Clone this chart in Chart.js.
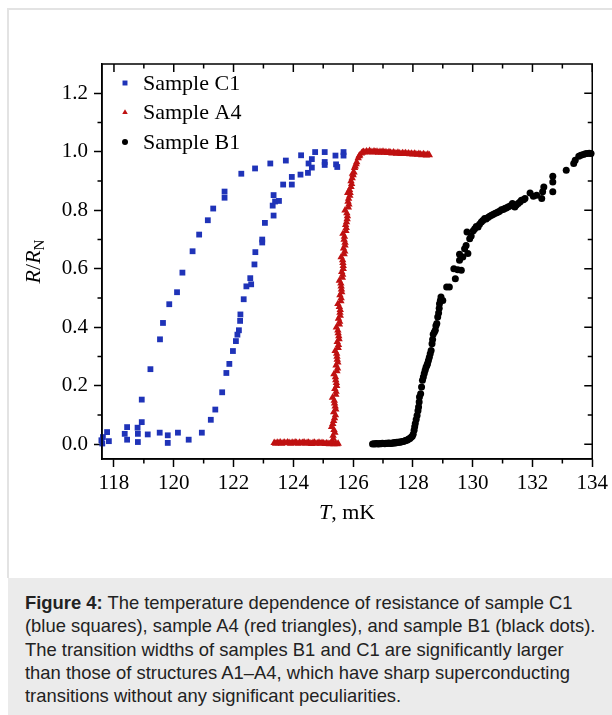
<!DOCTYPE html>
<html><head><meta charset="utf-8">
<script src="https://cdn.jsdelivr.net/npm/chart.js@4"></script>
<style>
html,body{margin:0;padding:0;background:#fff;}
body{width:612px;height:715px;position:relative;overflow:hidden;font-family:"Liberation Sans",Arial,sans-serif;}
#frame{position:absolute;left:7px;top:8px;width:605px;height:570px;border-top:2px solid #e3e3e3;border-left:2px solid #e3e3e3;box-sizing:border-box;}
#wrap{position:absolute;left:0;top:0;width:612px;height:578px;}
#cap{position:absolute;left:8px;top:578px;width:604px;height:137px;background:#ebebeb;box-sizing:border-box;padding:13px 0 0 17px;font-size:18.4px;line-height:23.3px;color:#222;white-space:nowrap;}
</style></head>
<body>
<div id="frame"></div>
<div id="wrap"><canvas id="c" width="612" height="578"></canvas></div>
<div id="cap"><b>Figure 4:</b> The temperature dependence of resistance of sample C1<br>(blue squares), sample A4 (red triangles), and sample B1 (black dots).<br>The transition widths of samples B1 and C1 are significantly larger<br>than those of structures A1–A4, which have sharp superconducting<br>transitions without any significant peculiarities.</div>
<script>
// ---- data (T in mK, R/RN) ----
const C1_T = [117.58,117.61,117.63,117.77,117.83,118.36,118.44,118.44,118.79,118.80,118.80,118.93,118.93,119.13,119.22,119.53,119.54,119.64,119.80,119.80,119.85,120.11,120.14,120.29,120.50,120.63,120.85,120.94,121.14,121.24,121.32,121.39,121.62,121.70,121.70,121.76,121.86,121.98,122.08,122.13,122.18,122.22,122.23,122.26,122.34,122.43,122.56,122.59,122.70,122.73,122.72,122.96,122.96,123.05,123.23,123.31,123.34,123.34,123.39,123.52,123.66,123.75,123.95,123.95,124.24,124.26,124.49,124.51,124.62,124.62,124.73,125.05,125.05,125.05,125.41,125.43,125.47,125.68,125.68];
const C1_R = [0.014,0.003,0.025,0.042,0.011,0.036,0.059,0.016,0.057,0.036,0.008,0.076,0.153,0.034,0.257,0.040,0.359,0.415,0.031,0.005,0.479,0.520,0.040,0.587,0.016,0.660,0.717,0.040,0.766,0.084,0.806,0.119,0.178,0.843,0.864,0.244,0.275,0.319,0.353,0.375,0.390,0.422,0.444,0.925,0.496,0.540,0.568,0.547,0.615,0.657,0.943,0.690,0.700,0.757,0.960,0.816,0.782,0.852,0.830,0.832,0.888,0.970,0.914,0.888,0.922,0.988,0.928,0.960,0.975,0.946,0.999,0.999,0.965,0.955,0.987,0.957,0.948,0.999,0.987];

const A4_T = [123.36,123.41,123.46,123.51,123.56,123.61,123.66,123.71,123.76,123.81,123.86,123.91,123.96,124.01,124.06,124.11,124.16,124.21,124.26,124.31,124.36,124.41,124.46,124.51,124.56,124.61,124.66,124.71,124.76,124.81,124.86,124.91,124.96,125.01,125.06,125.11,125.16,125.21,125.26,125.31,125.36,125.41,125.46,125.50,
125.30,125.33,125.36,125.32,125.38,125.35,125.40,125.37,125.42,125.39,125.44,125.41,125.46,125.43,125.47,125.45,125.50,125.47,125.52,125.49,125.54,125.51,125.56,125.54,125.59,125.56,125.61,125.59,125.64,125.62,125.67,125.65,125.70,125.68,125.73,125.71,125.76,125.75,125.80,125.79,125.84,125.83,125.89,125.88,125.95,125.97,126.03,126.07,126.12,126.17,126.22,126.28,126.35,
125.34,125.39,125.35,125.41,125.38,125.43,125.42,125.48,125.46,125.51,125.50,125.55,125.57,125.60,125.60,125.65,125.66,125.72,125.70,125.77,125.81,125.86,125.90,125.93,126.00,126.10,126.20,126.31,
125.28,125.42,125.31,125.45,125.36,125.49,125.40,125.53,125.44,125.57,125.49,125.62,125.54,125.67,125.60,125.73,125.66,125.78,125.73,125.85,125.82,125.93,125.98,126.05,
126.40,126.45,126.50,126.55,126.60,126.65,126.70,126.75,126.80,126.85,126.90,126.95,127.00,127.05,127.10,127.15,127.20,127.25,127.30,127.35,127.40,127.45,127.50,127.55,127.60,127.65,127.70,127.75,127.80,127.85,127.90,127.95,128.00,128.05,128.10,128.15,128.20,128.25,128.30,128.35,128.40,128.45,128.50,128.55];
const A4_R = [0.005,0.003,0.006,0.004,0.007,0.003,0.005,0.006,0.004,0.007,0.005,0.003,0.006,0.004,0.007,0.005,0.003,0.006,0.004,0.005,0.007,0.003,0.005,0.006,0.004,0.002,0.005,0.006,0.003,0.004,0.006,0.003,0.005,0.004,0.002,0.004,0.003,0.001,0.003,0.002,0.001,0.002,0.001,0.003,
0.010,0.030,0.050,0.070,0.090,0.110,0.130,0.150,0.170,0.190,0.210,0.230,0.250,0.270,0.290,0.310,0.330,0.350,0.370,0.390,0.410,0.430,0.450,0.470,0.490,0.510,0.530,0.550,0.570,0.590,0.610,0.630,0.650,0.670,0.690,0.710,0.730,0.750,0.770,0.790,0.810,0.830,0.850,0.870,0.890,0.910,0.930,0.950,0.965,0.978,0.988,0.995,1.000,
0.020,0.040,0.080,0.100,0.140,0.180,0.220,0.260,0.300,0.340,0.380,0.420,0.460,0.500,0.540,0.580,0.620,0.660,0.700,0.740,0.780,0.820,0.860,0.880,0.920,0.958,0.985,0.998,
0.060,0.120,0.160,0.200,0.240,0.280,0.320,0.360,0.400,0.440,0.480,0.520,0.560,0.600,0.640,0.680,0.720,0.760,0.800,0.840,0.860,0.900,0.925,0.945,
0.998,1.002,0.999,1.003,1.000,0.998,1.002,0.999,1.001,0.997,1.000,0.998,1.001,0.997,0.999,0.996,0.999,0.997,0.995,0.998,0.996,0.994,0.997,0.995,0.993,0.996,0.994,0.996,0.993,0.995,0.992,0.994,0.991,0.994,0.992,0.990,0.993,0.991,0.989,0.992,0.990,0.988,0.991,0.989];

const B1_T = [126.65,126.70,126.74,126.78,126.82,126.86,126.90,126.94,126.98,127.02,127.06,127.10,127.14,127.18,127.22,127.26,127.30,127.34,127.38,127.42,127.46,127.50,127.54,127.58,127.62,127.66,127.70,127.74,127.78,127.82,127.86,127.90,127.94,127.98,128.01,
128.04,128.06,128.08,128.11,128.14,128.17,128.19,128.21,128.22,128.26,128.29,128.32,128.35,128.38,128.41,128.44,128.47,128.49,128.52,128.55,128.58,128.61,128.64,128.66,128.68,128.72,128.75,128.77,128.80,128.83,128.86,128.88,128.89,128.92,128.94,129.00,129.13,129.22,129.37,129.42,129.50,129.56,129.56,129.62,129.67,129.73,129.78,129.81,129.84,129.90,129.95,130.02,130.07,130.12,130.18,130.23,130.29,130.34,130.40,130.45,130.51,130.57,130.63,130.68,130.74,130.80,130.85,130.90,130.96,131.02,131.07,131.12,131.18,131.25,131.33,131.41,131.46,131.52,131.58,131.63,131.70,131.75,131.92,132.03,132.14,132.31,132.34,132.38,132.68,132.68,132.68,133.13,133.38,133.43,133.55,133.62,133.70,133.77,133.83,133.90,133.96];
const B1_R = [0.001,0.002,0.001,0.003,0.002,0.001,0.003,0.002,0.004,0.003,0.002,0.004,0.003,0.005,0.004,0.003,0.005,0.004,0.006,0.005,0.007,0.006,0.008,0.007,0.009,0.010,0.011,0.012,0.014,0.015,0.018,0.020,0.024,0.028,0.035,
0.048,0.060,0.071,0.085,0.099,0.115,0.128,0.145,0.162,0.173,0.196,0.219,0.230,0.242,0.253,0.264,0.270,0.276,0.287,0.298,0.310,0.321,0.344,0.358,0.376,0.384,0.390,0.405,0.413,0.435,0.449,0.465,0.481,0.492,0.504,0.492,0.538,0.538,0.600,0.566,0.597,0.629,0.650,0.595,0.640,0.669,0.680,0.726,0.652,0.703,0.712,0.730,0.737,0.745,0.743,0.752,0.760,0.765,0.772,0.770,0.775,0.780,0.783,0.786,0.789,0.792,0.794,0.797,0.802,0.803,0.806,0.808,0.811,0.815,0.823,0.811,0.818,0.823,0.828,0.834,0.836,0.840,0.859,0.848,0.851,0.840,0.863,0.880,0.863,0.897,0.916,0.937,0.960,0.971,0.985,0.988,0.991,0.993,0.994,0.995,0.994];

const X_TICKS = [118,120,122,124,126,128,130,132,134];
const X_MINOR = [119,121,123,125,127,129,131,133];
const Y_TICKS = [0,0.2,0.4,0.6,0.8,1.0,1.2];
const Y_MINOR = [0.1,0.3,0.5,0.7,0.9,1.1];
const LEGEND = ['Sample C1','Sample A4','Sample B1'];

const COLORS = ['#1f33b8','#bf1111','#000000'];
const STYLES = ['rect','triangle','circle'];
const RADII = [4.1,4.3,3.5];
const LEG_RADII = [3.5,3.2,3.0];

const pts = (xs, ys) => xs.map((v,i)=>({x:v,y:ys[i]}));

const decor = {
  id:'decor',
  afterDraw(chart){
    const {ctx, chartArea:a, scales:{x,y}} = chart;
    ctx.save();
    ctx.strokeStyle='#000'; ctx.lineWidth=1.5; ctx.lineCap='butt';
    ctx.strokeRect(a.left,a.top,a.right-a.left,a.bottom-a.top);
    ctx.beginPath();
    X_MINOR.forEach(v=>{const p=x.getPixelForValue(v);
      ctx.moveTo(p,a.bottom); ctx.lineTo(p,a.bottom+4.5);
      ctx.moveTo(p,a.top); ctx.lineTo(p,a.top+4.5);});
    X_TICKS.forEach(v=>{const p=x.getPixelForValue(v);
      ctx.moveTo(p,a.top); ctx.lineTo(p,a.top+8);});
    Y_MINOR.forEach(v=>{const p=y.getPixelForValue(v);
      ctx.moveTo(a.left,p); ctx.lineTo(a.left-4.5,p);
      ctx.moveTo(a.right,p); ctx.lineTo(a.right-4.5,p);});
    Y_TICKS.forEach(v=>{const p=y.getPixelForValue(v);
      ctx.moveTo(a.right,p); ctx.lineTo(a.right-8,p);});
    ctx.stroke();

    // legend
    const lx = a.left + 23, tx = a.left + 41;
    LEGEND.forEach((t,i)=>{
      const ly = a.top + 19 + i*29.5;
      ctx.fillStyle = COLORS[i];
      Chart.helpers.drawPoint(ctx,{pointStyle:STYLES[i],radius:LEG_RADII[i],rotation:0,borderWidth:0},lx,ly);
      ctx.fillStyle='#000';
      ctx.font='22px "Liberation Serif"';
      ctx.textBaseline='middle'; ctx.textAlign='left';
      ctx.fillText(t,tx,ly+1);
    });

    // x title
    ctx.textBaseline='alphabetic';
    const cx=(a.left+a.right)/2;
    ctx.font='italic 22px "Liberation Serif"'; const w1=ctx.measureText('T').width;
    ctx.font='22px "Liberation Serif"'; const w2=ctx.measureText(', mK').width;
    let sx=cx-(w1+w2)/2;
    ctx.font='italic 22px "Liberation Serif"'; ctx.fillText('T',sx,519);
    ctx.font='22px "Liberation Serif"'; ctx.fillText(', mK',sx+w1,519);

    // y title
    ctx.save();
    ctx.translate(40,(a.top+a.bottom)/2);
    ctx.rotate(-Math.PI/2);
    ctx.font='italic 22px "Liberation Serif"'; const r=ctx.measureText('R').width;
    ctx.font='22px "Liberation Serif"'; const sl=ctx.measureText('/').width;
    ctx.font='15px "Liberation Serif"'; const n=ctx.measureText('N').width;
    let ox=-(2*r+sl+n)/2;
    ctx.font='italic 22px "Liberation Serif"'; ctx.fillText('R',ox,0);
    ctx.font='22px "Liberation Serif"'; ctx.fillText('/',ox+r,0);
    ctx.font='italic 22px "Liberation Serif"'; ctx.fillText('R',ox+r+sl,0);
    ctx.font='15px "Liberation Serif"'; ctx.fillText('N',ox+2*r+sl,4);
    ctx.restore();
    ctx.restore();
  }
};

const tickFont = {family:'"Liberation Serif"', size:21};
new Chart(document.getElementById('c'),{
  type:'scatter',
  data:{datasets:[
    {label:LEGEND[0],data:pts(C1_T,C1_R),pointStyle:STYLES[0],pointRadius:RADII[0],backgroundColor:COLORS[0],borderWidth:0,clip:false},
    {label:LEGEND[1],data:pts(A4_T,A4_R),pointStyle:STYLES[1],pointRadius:RADII[1],backgroundColor:COLORS[1],borderWidth:0,clip:false},
    {label:LEGEND[2],data:pts(B1_T,B1_R),pointStyle:STYLES[2],pointRadius:RADII[2],backgroundColor:COLORS[2],borderWidth:0,clip:false}
  ]},
  options:{
    responsive:false, animation:false, devicePixelRatio:1,
    layout:{padding:{left:0,top:64,right:19,bottom:0}},
    plugins:{legend:{display:false},tooltip:{enabled:false}},
    scales:{
      x:{type:'linear',min:117.6,max:134,
        afterBuildTicks:s=>{s.ticks=X_TICKS.map(v=>({value:v}));},
        afterFit:s=>{s.height=119;},
        ticks:{font:tickFont,color:'#000',padding:4,maxRotation:0,callback:v=>String(v)},
        grid:{drawOnChartArea:false,drawTicks:true,tickLength:8,tickColor:'#000',tickWidth:1.5},
        border:{display:true,color:'#000',width:1.5}},
      y:{type:'linear',min:-0.05,max:1.3,
        afterBuildTicks:s=>{s.ticks=Y_TICKS.map(v=>({value:v}));},
        afterFit:s=>{s.width=102;},
        ticks:{font:tickFont,color:'#000',padding:6,callback:v=>Number(v).toFixed(1)},
        grid:{drawOnChartArea:false,drawTicks:true,tickLength:8,tickColor:'#000',tickWidth:1.5},
        border:{display:true,color:'#000',width:1.5}}
    }
  },
  plugins:[decor]
});
</script>
</body></html>
